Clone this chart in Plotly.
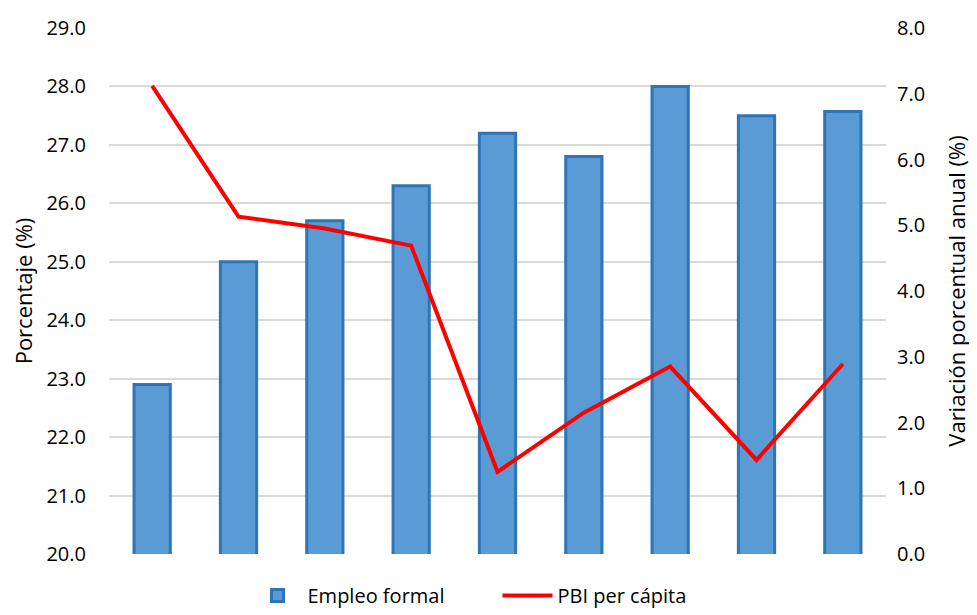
import plotly.graph_objects as go

categories = ["1", "2", "3", "4", "5", "6", "7", "8", "9"]
empleo_formal = [22.9, 25.0, 25.7, 26.3, 27.2, 26.8, 28.0, 27.5, 27.57]
pbi_per_capita = [7.12, 5.13, 4.95, 4.69, 1.25, 2.15, 2.85, 1.43, 2.89]

FONT = "Open Sans, Lato, sans-serif"

fig = go.Figure()
fig.add_trace(go.Bar(
    x=categories, y=empleo_formal, name="Empleo formal",
    marker=dict(color="#5B9BD5", line=dict(color="#2E75B6", width=3)),
    yaxis="y",
))
fig.add_trace(go.Scatter(
    x=categories, y=pbi_per_capita, name="PBI per cápita",
    mode="lines", line=dict(color="#FF0000", width=4),
    yaxis="y2",
))

# page body has an 8px default margin, so the figure is 8px smaller
fig.update_layout(
    width=969, height=607,
    paper_bgcolor="white", plot_bgcolor="white",
    margin=dict(l=101, r=91, t=20, b=61, autoexpand=False),
    font=dict(family=FONT, size=20, color="#000000"),
    bargap=0.58,
    showlegend=True,
    legend=dict(orientation="h", x=0.5, xanchor="center",
                yref="container", y=-0.005, yanchor="bottom",
                font=dict(size=20), traceorder="normal", itemwidth=50,
                entrywidth=185, entrywidthmode="pixels"),
    xaxis=dict(showticklabels=False, showgrid=False, showline=False, zeroline=False,
               ticks="", automargin=False),
    yaxis=dict(range=[20, 29], dtick=1, tickformat=".1f", showgrid=True,
               gridcolor="#D9D9D9", gridwidth=2, zeroline=False, showline=False,
               ticklabelstandoff=22, automargin=False,
               title=dict(text="Porcentaje (%)", font=dict(size=22), standoff=9)),
    yaxis2=dict(range=[0, 8], dtick=1, tickformat=".1f", overlaying="y", side="right",
                showgrid=False, zeroline=False, showline=False,
                ticklabelstandoff=10, automargin=False,
                title=dict(text="Variación porcentual anual (%)", font=dict(size=22), standoff=25)),
)

fig.write_html("out.html")
